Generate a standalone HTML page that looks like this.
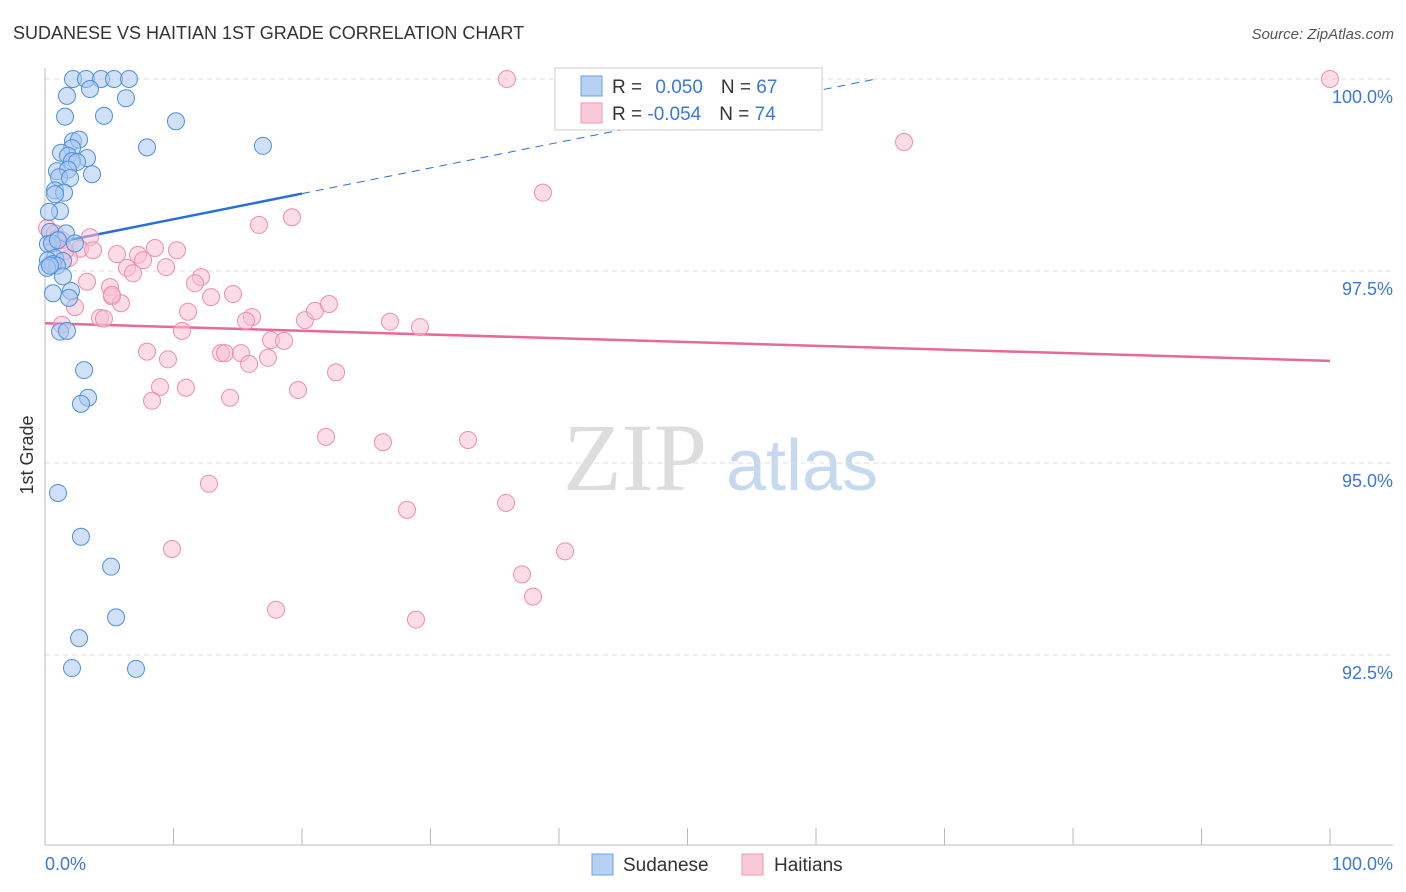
<!DOCTYPE html>
<html><head><meta charset="utf-8">
<style>
body{margin:0;background:#fff;font-family:"Liberation Sans",sans-serif;}
svg{display:block}
</style></head>
<body>
<svg id="chart" width="1406" height="892" viewBox="0 0 1406 892">
<text x="13" y="39" font-size="18" fill="#333">SUDANESE VS HAITIAN 1ST GRADE CORRELATION CHART</text>
<text x="1394" y="39" font-size="15" fill="#555" font-style="italic" text-anchor="end">Source: ZipAtlas.com</text>
<text x="33" y="455" font-size="18" fill="#333" transform="rotate(-90 33 455)" text-anchor="middle">1st Grade</text>
<g>
<text x="635" y="490" font-size="96" fill="#ddd" font-family="Liberation Serif,serif" text-anchor="middle">ZIP</text>
<text x="802" y="490" font-size="72" fill="#c7d9ef" text-anchor="middle">atlas</text>
</g>
<g id="grid"></g>
<g id="axes"></g>
<g id="trend"></g>
<g id="points"></g>
<g>
<rect x="555" y="68" width="267" height="62" fill="#fff" stroke="#ccc"/>
<rect x="581" y="76" width="21" height="20" fill="#b7d1f3" stroke="#6fa0e0"/>
<rect x="581" y="103" width="21" height="20" fill="#f9c9d7" stroke="#ee9ab3"/>
<text x="612" y="93" font-size="19" fill="#333">R = <tspan fill="#3b78d8" dx="8">0.050</tspan><tspan dx="18">N = </tspan><tspan fill="#3b78d8">67</tspan></text>
<text x="612" y="120" font-size="19" fill="#333">R = <tspan fill="#3b78d8">-0.054</tspan><tspan dx="18">N = </tspan><tspan fill="#3b78d8">74</tspan></text>
</g>
<g>
<rect x="592" y="854" width="21" height="21" fill="#b7d1f3" stroke="#6fa0e0"/>
<text x="623" y="871" font-size="19" fill="#333">Sudanese</text>
<rect x="742" y="854" width="21" height="21" fill="#f9c9d7" stroke="#ee9ab3"/>
<text x="774" y="871" font-size="19" fill="#333">Haitians</text>
</g>
</svg>
<script>
const sudX=[2.18,3.19,4.36,5.37,6.54,3.50,1.71,6.30,1.56,4.59,10.19,7.94,16.96,2.18,2.65,2.10,1.25,1.79,3.27,2.10,2.49,0.93,1.79,1.09,1.95,3.66,0.78,1.48,0.78,1.17,0.31,1.63,0.39,0.23,2.33,0.54,0.78,1.40,0.23,0.62,0.93,0.16,1.40,0.62,2.02,1.87,1.17,1.71,3.04,3.35,2.80,1.01,2.80,5.14,5.53,2.65,2.10,7.08,0.39,1.01];
const sudY=[100,100,100,100,100,99.87,99.78,99.75,99.51,99.52,99.45,99.11,99.13,99.19,99.21,99.10,99.04,99.00,98.97,98.93,98.92,98.80,98.82,98.72,98.71,98.76,98.55,98.52,98.50,98.28,98.27,97.99,98.01,97.85,97.86,97.86,97.67,97.63,97.64,97.59,97.57,97.54,97.43,97.21,97.24,97.15,96.71,96.72,96.21,95.85,95.77,94.61,94.04,93.65,92.99,92.72,92.33,92.32,97.57,97.90];
const haiX=[35.95,100,66.85,38.75,19.22,16.65,0.16,0.78,1.32,3.50,0.54,2.72,5.60,3.74,8.56,10.27,7.24,7.63,6.38,6.85,9.42,1.87,3.27,12.14,11.67,5.06,5.21,5.91,12.92,14.63,2.33,11.13,4.28,4.59,10.66,16.11,15.64,20.23,21.01,22.10,26.85,29.18,1.32,7.94,9.57,13.70,14.01,15.25,15.88,17.35,17.59,18.60,22.65,8.95,10.97,8.33,14.40,19.69,21.87,26.30,32.92,12.76,28.17,35.88,9.88,40.47,37.12,37.98,17.98,28.87,5.21,1.56,0.93];
const haiY=[100,100,99.18,98.52,98.20,98.10,98.06,97.99,97.90,97.94,97.86,97.79,97.72,97.77,97.80,97.77,97.71,97.64,97.54,97.47,97.55,97.67,97.36,97.42,97.34,97.29,97.17,97.08,97.16,97.20,97.03,96.97,96.89,96.88,96.72,96.90,96.85,96.86,96.98,97.07,96.84,96.77,96.80,96.45,96.35,96.43,96.43,96.43,96.29,96.37,96.60,96.59,96.18,95.99,95.98,95.81,95.85,95.95,95.34,95.27,95.30,94.73,94.39,94.48,93.88,93.85,93.55,93.26,93.09,92.96,97.19,97.76,97.92];
const yTicks=[100,97.5,95,92.5];
const yTickLabels=["100.0%","97.5%","95.0%","92.5%"];
const xTickVals=[0,10,20,30,40,50,60,70,80,90,100];
const xEndLabels=["0.0%","100.0%"];
const sudTrend=[97.84,0.0334];   // intercept, slope per %
const haiTrend=[96.82,-0.0049];

const NS="http://www.w3.org/2000/svg";
const X0=45,X1=1330,Y100=79,PXPER=76.8;
const xs=v=>X0+(X1-X0)*v/100;
const ys=v=>Y100+(100-v)*PXPER;
function mk(tag,attrs,parent){const e=document.createElementNS(NS,tag);for(const k in attrs)e.setAttribute(k,attrs[k]);parent.appendChild(e);return e;}
const grid=document.getElementById('grid'),axes=document.getElementById('axes'),tr=document.getElementById('trend'),pts=document.getElementById('points');
yTicks.forEach((t,i)=>{
  const l=mk('line',{x1:X0,x2:1393,y1:ys(t),y2:ys(t),stroke:'#ddd','stroke-dasharray':'5,4'},grid);
  
  
  const tx=mk('text',{x:1393,y:ys(t)+24,'font-size':18,fill:'#3b78d8','text-anchor':'end'},axes);
  tx.textContent=yTickLabels[i];
  
  
});
let a=mk('line',{x1:X0,x2:X0,y1:68,y2:845,stroke:'#bbb'},axes);


a=mk('line',{x1:X0,x2:1393,y1:845,y2:845,stroke:'#bbb'},axes);


xTickVals.forEach(v=>{
  const t=mk('line',{x1:xs(v),x2:xs(v),y1:828,y2:845,stroke:'#bbb'},axes);
  
  
});
let lx=mk('text',{x:45,y:870,'font-size':18,fill:'#3b78d8'},axes);lx.textContent=xEndLabels[0];


lx=mk('text',{x:1393,y:870,'font-size':18,fill:'#3b78d8','text-anchor':'end'},axes);lx.textContent=xEndLabels[1];


function drawPts(X,Y,fill,stroke,name){X.forEach((x,i)=>{
  const c=mk('circle',{cx:xs(x),cy:ys(Y[i]),r:8.5,fill:fill,'fill-opacity':0.55,stroke:stroke,'stroke-width':1},pts);
  
  
});}
drawPts(haiX,haiY,'#f9c0d2','#ec8fac','haitians-point');
drawPts(sudX,sudY,'#aac8f0','#4f8ee0','sudanese-point');
const sy=x=>sudTrend[0]+sudTrend[1]*x, hy=x=>haiTrend[0]+haiTrend[1]*x;
let t=mk('line',{x1:xs(0),y1:ys(sy(0)),x2:xs(20),y2:ys(sy(20)),stroke:'#2a6fd6','stroke-width':2.5},tr);


const xe=(100-sudTrend[0])/sudTrend[1];
t=mk('line',{x1:xs(20),y1:ys(sy(20)),x2:xs(xe),y2:ys(100),stroke:'#2a6fd6','stroke-width':1,'stroke-dasharray':'8,6'},tr);


t=mk('line',{x1:xs(0),y1:ys(hy(0)),x2:xs(100),y2:ys(hy(100)),stroke:'#e8689a','stroke-width':2.5},tr);


</script>
</body></html>
